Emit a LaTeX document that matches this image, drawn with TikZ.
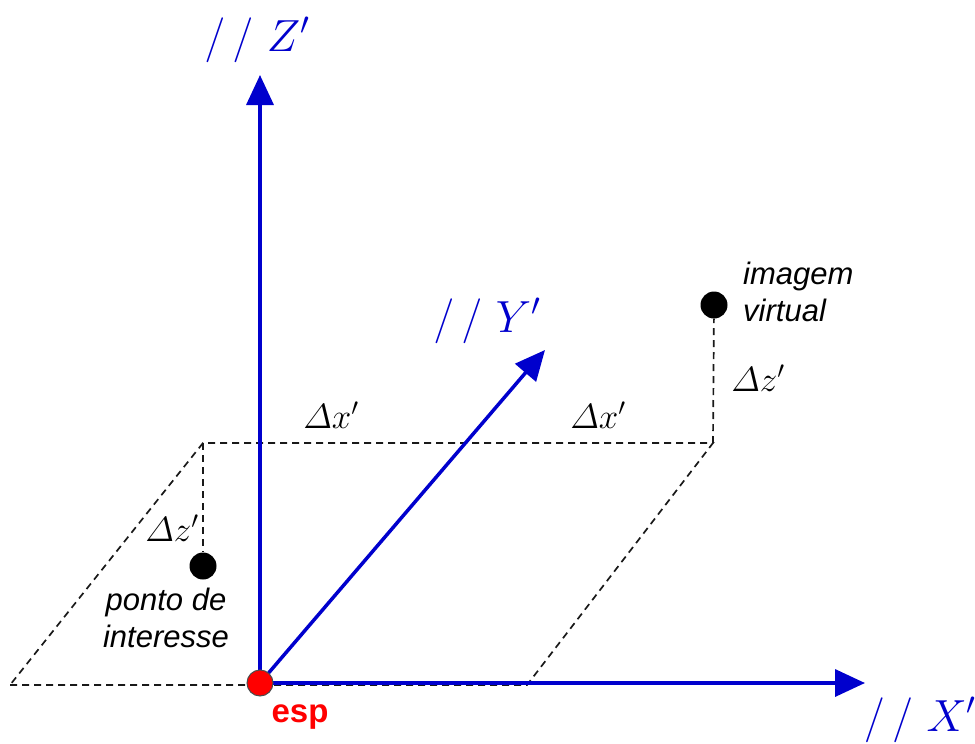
\RequirePackage{fix-cm}
\documentclass[tikz,border=0pt]{standalone}
\usepackage{amsmath}
\usepackage{fontspec}
\setsansfont{Liberation Sans}
\usepackage{tikz}
\usetikzlibrary{arrows.meta}
\definecolor{axisblue}{RGB}{0,0,205}
\tikzset{
  axis/.style={draw=axisblue,line width=3.5pt,-{Triangle[length=30pt,width=27pt]}},
  guide/.style={draw=black!90,line width=1.7pt,dash pattern=on 7pt off 5pt},
  dot/.style={circle,fill=black,inner sep=0pt,minimum size=27pt},
  axlabel/.style={text=axisblue,inner sep=1pt,font=\fontsize{45}{50}\selectfont},
  delta/.style={inner sep=1pt,font=\fontsize{35}{38}\selectfont},
  note/.style={inner sep=1pt,font=\sffamily\itshape\fontsize{31}{37}\selectfont}
}
\begin{document}
\begin{tikzpicture}[x=1pt,y=-1pt]
\path[use as bounding box] (0,0) rectangle (975,744);
% corners of the dashed plane
\coordinate (far) at (10,685);
\coordinate (back) at (203,443);
\coordinate (corner) at (713,443);
\coordinate (foot) at (527,685);
\node[dot] (ponto) at (203,566) {};
\node[dot] (imagem) at (714,305) {};
\draw[guide] (far) -- (foot) -- (corner) -- (back) -- cycle;
\draw[guide] (back) -- (ponto);
\draw[guide] (corner) -- (imagem);
% axes
\coordinate (orig) at (260,683);
\draw[axis] (orig) -- (260,75) coordinate (ztip);
\draw[axis] (orig) -- (865,683) coordinate (xtip);
\draw[axis] (orig) -- (545,350) coordinate (ytip);
\node[circle,fill=red,draw=black!70,line width=1pt,inner sep=0pt,minimum size=26pt] (esp) at (orig) {};
\node[text=red,inner sep=1pt,font=\sffamily\bfseries\fontsize{33}{38}\selectfont] (esplabel) at (300,717) {esp};
\node[axlabel] (zlabel) at (257,40) {$/\,/\ Z'$};
\node[axlabel] (ylabel) at (487,321) {$/\,/\ Y'$};
\node[axlabel] (xlabel) at (920,720) {$/\,/\ X'$};
\node[delta] (dxa) at (331,415) {$\varDelta x'$};
\node[delta] (dxb) at (598,415) {$\varDelta x'$};
\node[delta] (dza) at (172,528) {$\varDelta z'$};
\node[delta] (dzb) at (758,378) {$\varDelta z'$};
\node[note,align=center] (pontolabel) at (166,618) {ponto de\\interesse};
\node[note,align=left,anchor=west] (imagemlabel) at (742,292) {imagem\\virtual};
\end{tikzpicture}
\end{document}
